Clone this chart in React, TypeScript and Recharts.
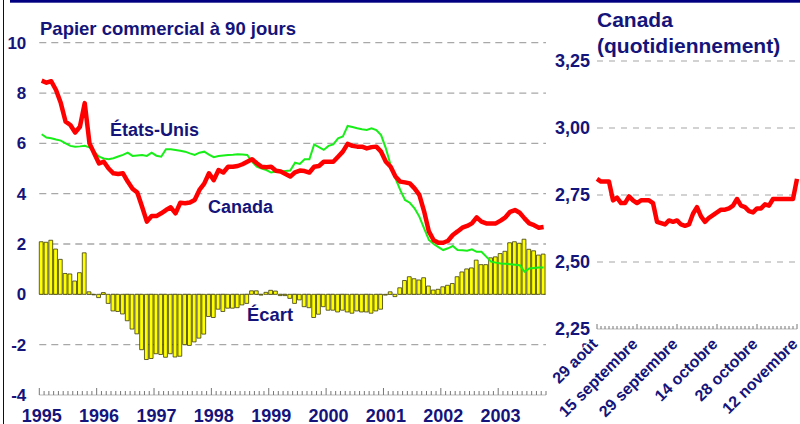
import React from 'react';
import { ComposedChart, LineChart, Bar, Line, XAxis, YAxis, CartesianGrid } from 'recharts';

const NAVY = '#14147a';
const FONT = '"Liberation Sans", Arial, Helvetica, sans-serif';

const years = ['1995', '1996', '1997', '1998', '1999', '2000', '2001', '2002', '2003'];

const canada = [
  8.49, 8.41, 8.47, 8.12, 7.6, 6.86, 6.73, 6.43, 6.66, 7.6,
  6.0, 5.6, 5.2, 5.27, 5.0, 4.81, 4.78, 4.81, 4.48, 4.2,
  4.05, 3.48, 2.89, 3.11, 3.11, 3.22, 3.35, 3.46, 3.22, 3.64,
  3.62, 3.65, 3.75, 4.15, 4.4, 4.81, 4.54, 4.94, 4.84, 5.07,
  5.07, 5.1, 5.17, 5.27, 5.37, 5.21, 5.07, 5.05, 5.07, 4.91,
  4.88, 4.78, 4.68, 4.85, 4.92, 4.9, 4.84, 5.07, 5.1, 5.27,
  5.27, 5.27, 5.47, 5.67, 5.98, 5.9, 5.87, 5.87, 5.8, 5.85,
  5.87, 5.67, 5.27, 5.07, 4.68, 4.48, 4.45, 4.41, 4.21, 3.95,
  3.3, 2.5, 2.15, 2.05, 2.05, 2.13, 2.36, 2.5, 2.65, 2.72,
  2.82, 3.06, 2.89, 2.82, 2.82, 2.82, 2.93, 3.06, 3.28, 3.35,
  3.24, 3.02, 2.82, 2.75, 2.65, 2.68,
];

const etatsUnis = [
  6.36, 6.23, 6.2, 6.15, 6.11, 6.0, 5.9, 5.87, 5.88, 5.9,
  5.84, 5.67, 5.47, 5.4, 5.37, 5.41, 5.48, 5.54, 5.63, 5.5,
  5.52, 5.54, 5.5, 5.63, 5.51, 5.47, 5.77, 5.77, 5.74, 5.71,
  5.67, 5.6, 5.54, 5.63, 5.67, 5.55, 5.45, 5.5, 5.52, 5.54,
  5.55, 5.57, 5.56, 5.54, 5.27, 5.07, 5.0, 4.94, 4.84, 4.88,
  4.88, 4.9, 4.92, 5.23, 5.18, 5.37, 5.37, 5.96, 5.85, 5.74,
  5.9, 5.96, 6.2, 6.27, 6.69, 6.65, 6.6, 6.56, 6.53, 6.6,
  6.53, 6.33, 5.8, 5.14, 4.61, 4.15, 3.75, 3.64, 3.42, 3.09,
  2.62, 2.16, 2.0, 1.88, 1.76, 1.83, 1.92, 1.76, 1.75, 1.73,
  1.79, 1.69, 1.69, 1.5, 1.3, 1.26, 1.23, 1.22, 1.2, 1.18,
  1.16, 0.9, 1.03, 1.05, 1.07, 1.07,
];

const ecart = [
  2.09, 2.07, 2.15, 1.8, 1.39, 0.83, 0.81, 0.53, 0.86, 1.65,
  0.1, -0.02, -0.13, 0.07, -0.36, -0.66, -0.68, -0.78, -1.05, -1.38,
  -1.57, -2.2, -2.59, -2.55, -2.36, -2.39, -2.5, -2.36, -2.49, -2.46,
  -2.0, -2.03, -1.89, -1.74, -1.58, -0.88, -0.92, -0.59, -0.68, -0.55,
  -0.55, -0.53, -0.42, -0.36, 0.14, 0.14, -0.03, 0.08, 0.16, 0.13,
  -0.05, -0.05, -0.16, -0.36, -0.22, -0.49, -0.53, -0.92, -0.79, -0.49,
  -0.63, -0.63, -0.7, -0.63, -0.7, -0.75, -0.66, -0.7, -0.7, -0.75,
  -0.66, -0.59, -0.03, 0.1, -0.09, 0.26, 0.55, 0.7, 0.62, 0.57,
  0.66, 0.33, 0.17, 0.2, 0.3, 0.36, 0.43, 0.7, 0.89, 1.01,
  1.05, 1.36, 1.18, 1.18, 1.45, 1.49, 1.62, 1.71, 2.05, 2.09,
  2.03, 2.19, 1.79, 1.73, 1.56, 1.6,
];

const leftYTicks = [-4, -2, 0, 2, 4, 6, 8, 10];
const leftGridValues = [-2, 0, 2, 4, 6, 8, 10];

const dailyLabels = ['29 août', '15 septembre', '29 septembre', '14 octobre', '28 octobre', '12 novembre'];
const canadaDaily = [
  2.81, 2.8, 2.8, 2.8, 2.73, 2.74, 2.72, 2.72, 2.745, 2.73,
  2.72, 2.73, 2.73, 2.73, 2.72, 2.65, 2.645, 2.64, 2.655, 2.65,
  2.655, 2.64, 2.635, 2.64, 2.68, 2.705, 2.67, 2.65, 2.665, 2.675,
  2.685, 2.695, 2.695, 2.7, 2.71, 2.735, 2.71, 2.705, 2.69, 2.685,
  2.7, 2.7, 2.715, 2.71, 2.735, 2.735, 2.735, 2.735, 2.735, 2.735,
  2.81,
];
const rightYTicks = [2.25, 2.5, 2.75, 3.0, 3.25];
const rightGridValues = [2.5, 2.75, 3.0, 3.25];

const monthlyData = canada.map((c, i) => ({ m: i + 0.5, canada: c, us: etatsUnis[i], ecart: ecart[i] }));
const monthTicks = Array.from({ length: canada.length + 1 }, (_, i) => i);
const dailyData = canadaDaily.map((v, i) => ({ d: i, canada: v }));
const dayTicks = Array.from({ length: canadaDaily.length }, (_, i) => i);

const MonthTick = (props: any) => {
  const { x, y, payload } = props;
  const v = payload.value as number;
  const major = v % 12 === 0;
  const yi = v / 12;
  return (
    <g>
      <line x1={x} x2={x} y1={y} y2={y - (major ? 7 : 4)} stroke="#777" strokeWidth={1} />
      {major && yi < years.length && (
        <text x={x + 2.4} y={y + 26.5} textAnchor="middle" fill={NAVY} fontSize={18} fontWeight="bold" fontFamily={FONT}>
          {years[yi]}
        </text>
      )}
    </g>
  );
};

const DayTick = (props: any) => {
  const { x, y, payload } = props;
  const v = payload.value as number;
  const major = v % 10 === 0;
  const li = v / 10;
  const ax = x + 1.5;
  const ay = y + 16;
  return (
    <g>
      <line x1={x} x2={x} y1={y} y2={y - (major ? 5 : 3)} stroke="#777" strokeWidth={1} />
      {major && li < dailyLabels.length && (
        <text
          x={ax}
          y={ay}
          textAnchor="end"
          transform={`rotate(-45 ${ax} ${ay})`}
          fill={NAVY}
          fontSize={16}
          fontWeight="bold"
          fontFamily={FONT}
        >
          {dailyLabels[li]}
        </text>
      )}
    </g>
  );
};

const yTickStyle = { fill: NAVY, fontSize: 17, fontWeight: 'bold' as const, fontFamily: FONT };

export default function App() {
  return (
    <div style={{ position: 'fixed', left: 0, top: 0, width: 800, height: 424, background: '#fff', overflow: 'hidden' }}>
      <div style={{ position: 'absolute', left: 0, top: 0 }}>
        <ComposedChart width={560} height={424} data={monthlyData} margin={{ top: 42.7, right: 14, bottom: 0, left: 0 }}>
          <CartesianGrid vertical={false} horizontalValues={leftGridValues} stroke="#a8a8a8" strokeWidth={1.3} strokeDasharray="7 5" />
          <XAxis
            dataKey="m"
            type="number"
            domain={[0, canada.length]}
            ticks={monthTicks}
            interval={0}
            tick={<MonthTick />}
            tickLine={false}
            tickSize={0}
            tickMargin={0}
            height={29}
            axisLine={{ stroke: '#bbbbbb', strokeWidth: 1 }}
          />
          <YAxis
            type="number"
            domain={[-4, 10]}
            ticks={leftYTicks}
            interval={0}
            width={39.3}
            axisLine={false}
            tickLine={false}
            tickSize={0}
            tickMargin={13}
            tick={yTickStyle}
          />
          <Bar dataKey="ecart" barSize={3.8} fill="#ffff00" stroke="#3a3a10" strokeWidth={0.8} isAnimationActive={false} />
          <Line dataKey="us" type="linear" stroke="#18ee18" strokeWidth={2} dot={false} isAnimationActive={false} />
          <Line dataKey="canada" type="linear" stroke="#ff0000" strokeWidth={4.5} dot={false} isAnimationActive={false} strokeLinejoin="round" />
        </ComposedChart>
      </div>
      <div style={{ position: 'absolute', left: 540, top: 0 }}>
        <LineChart width={260} height={424} data={dailyData} margin={{ top: 61, right: 3, bottom: 0, left: 0 }}>
          <CartesianGrid vertical={false} horizontalValues={rightGridValues} stroke="#c4c4c4" strokeWidth={1.3} strokeDasharray="6 6" />
          <XAxis
            dataKey="d"
            type="number"
            domain={[0, canadaDaily.length - 1]}
            ticks={dayTicks}
            interval={0}
            tick={<DayTick />}
            tickLine={false}
            tickSize={0}
            tickMargin={0}
            height={95}
            axisLine={{ stroke: '#bbbbbb', strokeWidth: 1 }}
          />
          <YAxis
            type="number"
            domain={[2.25, 3.25]}
            ticks={rightYTicks}
            interval={0}
            width={57}
            axisLine={false}
            tickLine={false}
            tickSize={0}
            tickMargin={7}
            tick={{ ...yTickStyle, fontSize: 18 }}
            tickFormatter={(v: number) => v.toFixed(2).replace('.', ',')}
          />
          <Line dataKey="canada" type="linear" stroke="#ff0000" strokeWidth={4.5} dot={false} isAnimationActive={false} strokeLinejoin="round" />
        </LineChart>
      </div>
      <svg width={800} height={424} style={{ position: 'absolute', left: 0, top: 0, pointerEvents: 'none' }}>
        <rect x={10} y={0} width={790} height={2.7} fill="#000080" />
        <rect x={3} y={0} width={1} height={424} fill="#000080" />
        <g fill={NAVY} fontWeight="bold" fontFamily={FONT}>
          <text x={40} y={35} fontSize={18.5}>Papier commercial à 90 jours</text>
          <text x={110} y={136} fontSize={18}>États-Unis</text>
          <text x={208} y={213} fontSize={18}>Canada</text>
          <text x={247} y={320.7} fontSize={18.4}>Écart</text>
          <text x={597} y={27.3} fontSize={21}>Canada</text>
          <text x={597} y={53.3} fontSize={21}>(quotidiennement)</text>
        </g>
      </svg>
    </div>
  );
}
